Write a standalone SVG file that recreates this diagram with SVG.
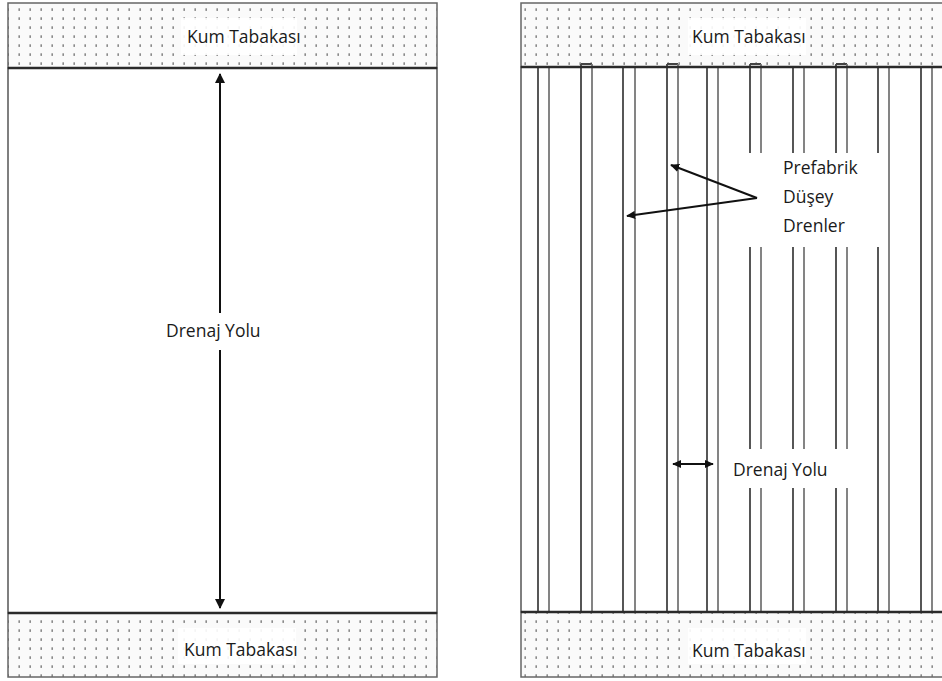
<svg xmlns="http://www.w3.org/2000/svg" width="942" height="681" viewBox="0 0 942 681">
  <defs>
    <pattern id="sand" x="3" y="5" width="11" height="9" patternUnits="userSpaceOnUse">
      <rect width="11" height="9" fill="#fafafa"/>
      <rect x="4.4" y="3.3" width="1.6" height="2.6" fill="#8a8a8a"/>
    </pattern>
    <marker id="ah" viewBox="0 0 10 10" refX="9" refY="5" markerWidth="10" markerHeight="11" markerUnits="userSpaceOnUse" orient="auto-start-reverse">
      <path d="M0,0 L10,5 L0,10 z" fill="#111"/>
    </marker>
    <marker id="ahs" viewBox="0 0 10 10" refX="9" refY="5" markerWidth="9" markerHeight="9" markerUnits="userSpaceOnUse" orient="auto-start-reverse">
      <path d="M0,0.5 L10,5 L0,9.5 z" fill="#111"/>
    </marker>
  </defs>
  <style>
    .sand { fill: url(#sand); stroke: #666; stroke-width: 1.5; }
    .clay { fill: #fff; stroke: #555; stroke-width: 1.5; }
    .bound { stroke: #2a2a2a; stroke-width: 2.5; fill: none; }
    .drain { stroke: #444; stroke-width: 1.8; fill: none; }
    .drain2 { stroke: #777; stroke-width: 1.8; fill: none; }
    .lbl { font-family: "Open Sans", "Liberation Sans", sans-serif; font-size: 17.5px; fill: #1a1a1a; }
    .mask { fill: #fff; stroke: none; }
    .lead { stroke: #111; stroke-width: 2; fill: none; }
  </style>

  <!-- LEFT PANEL -->
  <g id="left-top-sand">
    <rect class="sand" x="8" y="3" width="429" height="65"/>
    <rect class="mask" x="181" y="18" width="116" height="37" fill-opacity="0.9"/>
    <text class="lbl" x="187" y="43">Kum Tabakası</text>
  </g>
  <g id="left-clay">
    <rect class="clay" x="8" y="68" width="429" height="545"/>
  </g>
  <g id="left-bottom-sand">
    <rect class="sand" x="8" y="613" width="429" height="64"/>
    <rect class="mask" x="178" y="628" width="118" height="36" fill-opacity="0.9"/>
    <text class="lbl" x="184" y="656">Kum Tabakası</text>
  </g>

  <!-- RIGHT PANEL -->
  <g id="right-top-sand">
    <rect class="sand" x="521" y="3" width="430" height="64"/>
    <rect class="mask" x="688" y="18" width="118" height="37" fill-opacity="0.9"/>
    <text class="lbl" x="692" y="43">Kum Tabakası</text>
  </g>
  <g id="right-clay">
    <rect class="clay" x="521" y="67" width="430" height="545"/>
  </g>
  <g id="right-bottom-sand">
    <rect class="sand" x="521" y="612" width="430" height="65"/>
    <rect class="mask" x="688" y="628" width="118" height="36" fill-opacity="0.9"/>
    <text class="lbl" x="692" y="657">Kum Tabakası</text>
  </g>

  <g id="drains">
    <path class="drain" d="M538,67V612"/><path class="drain2" d="M549,67V612"/>
    <path class="drain" d="M581,64V612 M581,64H592"/><path class="drain2" d="M592,64V612"/>
    <path class="drain" d="M623,67V612"/><path class="drain2" d="M635,67V612"/>
    <path class="drain" d="M667,64V612 M667,64H678"/><path class="drain2" d="M678,64V612"/>
    <path class="drain" d="M707,67V612"/><path class="drain2" d="M718,67V612"/>
    <path class="drain" d="M750,64V612 M750,64H761"/><path class="drain2" d="M761,64V612"/>
    <path class="drain" d="M793,67V612"/><path class="drain2" d="M804,67V612"/>
    <path class="drain" d="M836,64V612 M836,64H847"/><path class="drain2" d="M847,64V612"/>
    <path class="drain" d="M878,67V612"/><path class="drain2" d="M889,67V612"/>
    <path class="drain" d="M921,67V612"/><path class="drain2" d="M932,67V612"/>
  </g>

  <g id="boundaries">
    <line class="bound" x1="8" y1="68" x2="437" y2="68"/>
    <line class="bound" x1="8" y1="613" x2="437" y2="613"/>
    <line class="bound" x1="521" y1="67" x2="942" y2="67"/>
    <line class="bound" x1="521" y1="612" x2="942" y2="612"/>
  </g>

  <!-- Labels in right panel -->
  <g id="label-prefabrik">
    <rect class="mask" x="745" y="153" width="135" height="94"/>
    <text class="lbl" x="783" y="174">Prefabrik</text>
    <text class="lbl" x="783" y="203">Düşey</text>
    <text class="lbl" x="783" y="232">Drenler</text>
  </g>
  <g id="label-drenaj-right">
    <rect class="mask" x="721" y="449" width="147" height="39"/>
    <text class="lbl" x="733" y="476">Drenaj Yolu</text>
  </g>

  <g id="connectors">
    <line class="lead" x1="220" y1="313" x2="220" y2="74" marker-end="url(#ah)"/>
    <line class="lead" x1="220" y1="350" x2="220" y2="608" marker-end="url(#ah)"/>
    <line class="lead" x1="757" y1="198" x2="671" y2="165" marker-end="url(#ahs)"/>
    <line class="lead" x1="757" y1="198" x2="627" y2="216" marker-end="url(#ahs)"/>
    <line class="lead" x1="673" y1="464" x2="713" y2="464" stroke-width="2.6" marker-start="url(#ahs)" marker-end="url(#ahs)"/>
  </g>
  <g id="label-drenaj-left">
    <text class="lbl" x="166" y="337">Drenaj Yolu</text>
  </g>
</svg>
